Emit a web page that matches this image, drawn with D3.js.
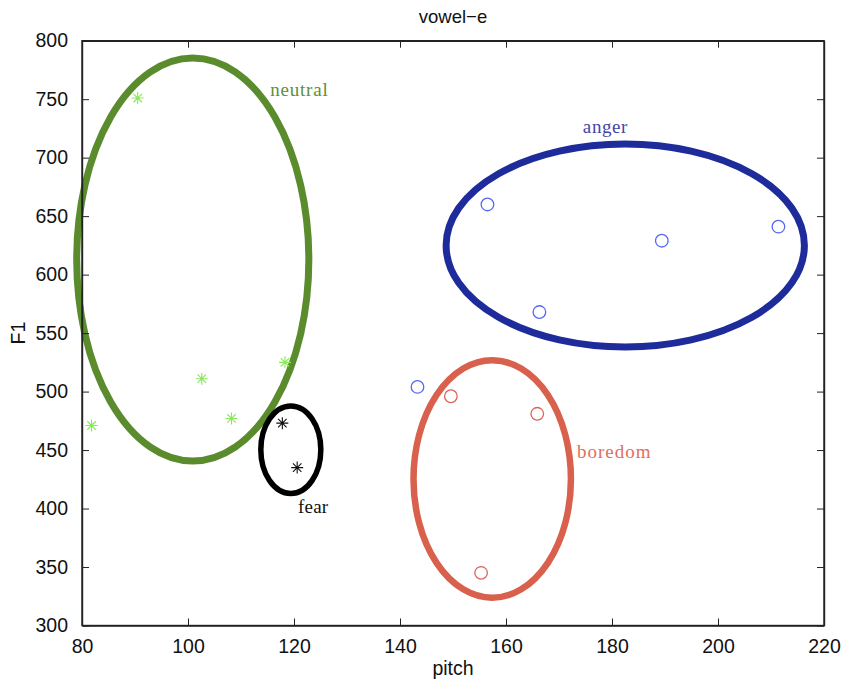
<!DOCTYPE html>
<html>
<head>
<meta charset="utf-8">
<script src="https://cdn.jsdelivr.net/npm/d3@7"></script>
<style>
  html, body { margin: 0; padding: 0; background: #fff; }
  svg { display: block; }
  .tick text { font-family: "Liberation Sans", Arial, sans-serif; }
</style>
</head>
<body>
<svg id="chart" width="846" height="688"></svg>
<script>
// Axis ticks
const xTicks = [80, 100, 120, 140, 160, 180, 200, 220];
const yTicks = [300, 350, 400, 450, 500, 550, 600, 650, 700, 750, 800];

// Measurements per emotion (pitch, F1)
const neutralPitch = [81.8, 90.5, 102.6, 108.2, 118.3];
const neutralF1    = [471, 751, 511, 477, 525];
const fearPitch    = [117.8, 120.6];
const fearF1       = [473, 435];
const angerPitch   = [143.3, 156.5, 166.3, 189.4, 211.4];
const angerF1      = [504, 660, 568, 629, 641];
const boredomPitch = [149.6, 155.3, 165.9];
const boredomF1    = [496, 345, 481];

// Cluster outlines: centre and half-widths in data units
const clusterNames  = ["neutral", "fear", "anger", "boredom"];
const clusterPitch  = [100.9, 119.4, 182.5, 157.4];
const clusterF1     = [612.9, 450.3, 624.9, 425.3];
const clusterPitchR = [21.9, 5.66, 33.8, 14.85];
const clusterF1R    = [172.3, 37.4, 86.8, 101.5];

const margin = { left: 82, right: 22, top: 40.7, bottom: 62.5 };
const W = 846, H = 688;
const svg = d3.select("#chart");

const x = d3.scaleLinear().domain([80, 220]).range([margin.left, W - margin.right]);
const y = d3.scaleLinear().domain([300, 800]).range([H - margin.bottom, margin.top]);

const styles = {
  neutral: { ring: "#5a8b2c", ringW: 7,   label: "#5e9036", point: "#86ea55", marker: "star" },
  fear:    { ring: "#000000", ringW: 5.5, label: "#111111", point: "#111111", marker: "star" },
  anger:   { ring: "#1e2c9b", ringW: 7,   label: "#4346a8", point: "#5468f2", marker: "circle" },
  boredom: { ring: "#d8604c", ringW: 6.5, label: "#df6e5e", point: "#dc6459", marker: "circle" }
};

// Text anchors for cluster labels, in data units (start of text, baseline)
const labelAt = {
  neutral: [115.5, 752.7],
  fear:    [120.75, 396.2],
  anger:   [174.5, 721],
  boredom: [173.4, 443.2]
};

// Plot frame with inward ticks on all four sides (MATLAB box style)
const plot = svg.append("g");
const tickLen = 7;
const axisColor = "#222";

const frame = svg.append("g");
frame.append("rect")
  .attr("x", x(80)).attr("y", y(800))
  .attr("width", x(220) - x(80)).attr("height", y(300) - y(800))
  .attr("fill", "none").attr("stroke", axisColor).attr("stroke-width", 1.4);

const xAxisB = d3.axisBottom(x).tickValues(xTicks).tickSizeInner(-tickLen).tickSizeOuter(0).tickPadding(14);
const xAxisT = d3.axisTop(x).tickValues(xTicks).tickSizeInner(-tickLen).tickSizeOuter(0).tickFormat("");
const yAxisL = d3.axisLeft(y).tickValues(yTicks).tickSizeInner(-tickLen).tickSizeOuter(0).tickPadding(14);
const yAxisR = d3.axisRight(y).tickValues(yTicks).tickSizeInner(-tickLen).tickSizeOuter(0).tickFormat("");

function styleAxis(g) {
  g.select(".domain").attr("stroke", axisColor).attr("stroke-width", 1.4);
  g.selectAll(".tick line").attr("stroke", axisColor).attr("stroke-width", 1);
  g.selectAll(".tick text").attr("fill", "#111").attr("font-size", 19.5);
}

frame.append("g").attr("transform", `translate(0,${y(300)})`).call(xAxisB).call(styleAxis);
frame.append("g").attr("transform", `translate(0,${y(800)})`).call(xAxisT).call(styleAxis);
frame.append("g").attr("transform", `translate(${x(80)},0)`).call(yAxisL).call(styleAxis);
frame.append("g").attr("transform", `translate(${x(220)},0)`).call(yAxisR).call(styleAxis);

// Axis titles and chart title
svg.append("text")
  .attr("x", (x(80) + x(220)) / 2).attr("y", 23)
  .attr("text-anchor", "middle")
  .attr("font-family", "Liberation Sans, Arial, sans-serif")
  .attr("font-size", 18.5).attr("fill", "#111")
  .text("vowel\u2212e");

svg.append("text")
  .attr("x", (x(80) + x(220)) / 2).attr("y", 675)
  .attr("text-anchor", "middle")
  .attr("font-family", "Liberation Sans, Arial, sans-serif")
  .attr("font-size", 19.5).attr("fill", "#111")
  .text("pitch");

svg.append("text")
  .attr("transform", `translate(25,${(y(300) + y(800)) / 2}) rotate(-90)`)
  .attr("text-anchor", "middle")
  .attr("font-family", "Liberation Sans, Arial, sans-serif")
  .attr("font-size", 19.5).attr("fill", "#111")
  .text("F1");

// Data points
const series = {
  neutral: d3.zip(neutralPitch, neutralF1),
  fear:    d3.zip(fearPitch, fearF1),
  anger:   d3.zip(angerPitch, angerF1),
  boredom: d3.zip(boredomPitch, boredomF1)
};

const starR = 6;
const starPath = (() => {
  const d = starR * Math.SQRT1_2;
  return `M${-starR},0L${starR},0M0,${-starR}L0,${starR}` +
         `M${-d},${-d}L${d},${d}M${-d},${d}L${d},${-d}`;
})();

// Cluster outlines
clusterNames.forEach((name, i) => {
  const s = styles[name];
  plot.append("ellipse")
    .attr("cx", x(clusterPitch[i]))
    .attr("cy", y(clusterF1[i]))
    .attr("rx", x(clusterPitch[i] + clusterPitchR[i]) - x(clusterPitch[i]))
    .attr("ry", y(clusterF1[i]) - y(clusterF1[i] + clusterF1R[i]))
    .attr("fill", "none")
    .attr("stroke", s.ring)
    .attr("stroke-width", s.ringW);
});

Object.keys(series).forEach(name => {
  const s = styles[name];
  const g = plot.append("g");
  if (s.marker === "star") {
    g.selectAll("path").data(series[name]).join("path")
      .attr("transform", d => `translate(${x(d[0])},${y(d[1])})`)
      .attr("d", starPath)
      .attr("stroke", s.point).attr("stroke-width", 1.1).attr("fill", "none");
  } else {
    g.selectAll("circle").data(series[name]).join("circle")
      .attr("cx", d => x(d[0])).attr("cy", d => y(d[1]))
      .attr("r", 6.3)
      .attr("stroke", s.point).attr("stroke-width", 1.3).attr("fill", "none");
  }
});

// Cluster labels
const labelSpacing = { neutral: 0.8, fear: 0.2, anger: 0.6, boredom: 1 };
clusterNames.forEach(name => {
  const [lx, ly] = labelAt[name];
  svg.append("text")
    .attr("x", x(lx)).attr("y", y(ly))
    .attr("font-family", "Liberation Serif, Times New Roman, serif")
    .attr("font-size", 19)
    .attr("letter-spacing", labelSpacing[name])
    .attr("fill", styles[name].label)
    .text(name);
});
</script>
</body>
</html>
